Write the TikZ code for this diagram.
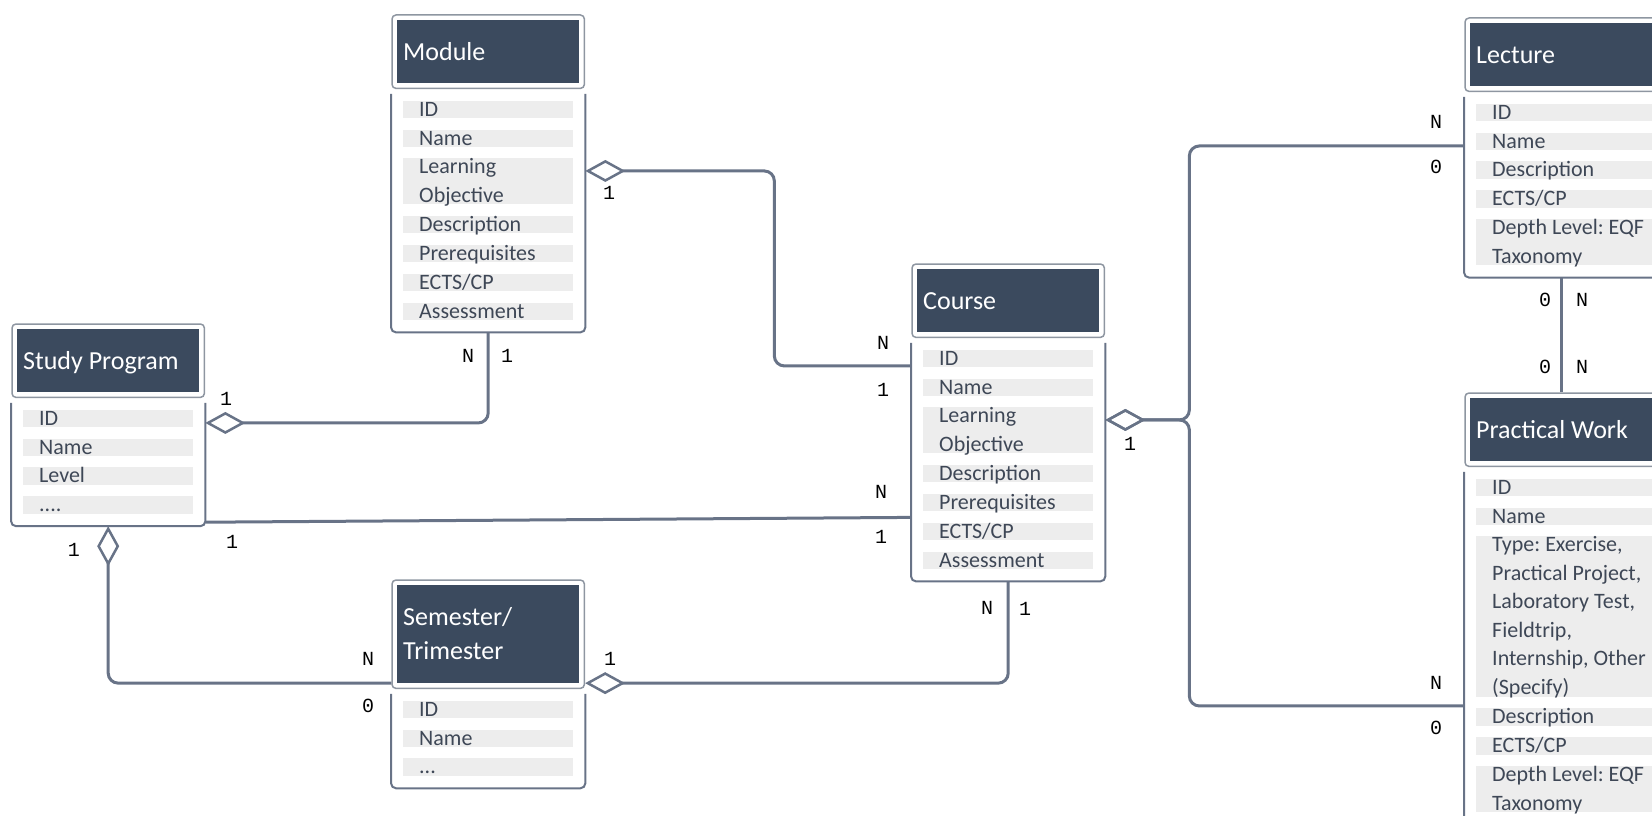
\documentclass[tikz,border=0pt]{standalone}
\usepackage{fontspec}
\usepackage{xcolor}
\usepackage{tikz}
\usetikzlibrary{positioning,calc,fit,arrows.meta}

\newfontfamily\carlito{Carlito}
\newfontfamily\lblmono{Liberation Mono}

\definecolor{hdrc}{HTML}{3B4A5E}
\definecolor{barc}{HTML}{EDEDED}
\definecolor{txtc}{HTML}{3E4756}
\definecolor{linec}{HTML}{687387}
\definecolor{framec}{HTML}{8E96A1}

\tikzset{
    hdr/.style={fill=hdrc, text=white, anchor=north west, font=\carlito\fontsize{26}{32}\selectfont,
        text width=170pt, inner xsep=6pt, inner ysep=0pt, minimum height=63pt,
        text height=17pt, text depth=0pt, align=left,
        execute at begin node={\spaceskip=0pt\xspaceskip=0pt\frenchspacing\relax}},
    hdr2/.style={hdr, minimum height=98pt, text depth=34pt, execute at begin node={\baselineskip=34pt\relax}},
    hframe/.style={draw=framec, line width=1.5pt, rounded corners=4pt, inner sep=5pt},
    attr/.style={fill=barc, text=txtc, font=\carlito\fontsize{22}{28.5}\selectfont,
        text width=170pt, inner sep=0pt, text height=15.5pt, text depth=2pt, align=left,
        execute at begin node={\leftskip=16pt\relax\baselineskip=28.5pt\relax
            \spaceskip=0pt\xspaceskip=0pt\frenchspacing\relax}},
    attr2/.style={attr, text depth=30.5pt},
    attr6/.style={attr, text depth=145pt},
    abox/.style={inner sep=0pt},
    aframe/.style={draw=linec, line width=2pt, rounded corners=5pt},
    conn/.style={draw=linec, line width=3pt, rounded corners=10pt},
    dia/.tip={Diamond[open, length=40pt, width=22pt, line width=2.5pt]},
    lbl/.style={font=\lblmono\fontsize{20}{20}\selectfont, inner sep=0pt}
}

\begin{document}
\begin{tikzpicture}[x=1pt, y=-1pt]
    \useasboundingbox (0,0) rectangle (1652,816);
    \clip (0,0) rectangle (1652,816);

    % Module
    \node[hdr] (mod-h) at (397,20) {Module};
    \node[hframe, fit=(mod-h)] (mod-hf) {};
    \coordinate (mod-0) at ($(mod-h.south west)+(6,6)$);
    \foreach \t/\s [count=\i] in {ID/attr, Name/attr, {Learning\\Objective}/attr2, Description/attr,
        Prerequisites/attr, {ECTS/CP}/attr, Assessment/attr} {
        \pgfmathtruncatemacro\j{\i-1}
        \node[\s, below=11pt of mod-\j.south west, anchor=north west] (mod-\i) {\t};
    }
    \node[abox, fit={($(mod-hf.south west)+(0,5)$) ($(mod-7.south -| mod-hf.east)+(0,12)$)}] (mod-b) {};
    \draw[aframe] (mod-b.north west) -- (mod-b.south west) -- (mod-b.south east) -- (mod-b.north east);

    % Study Program
    \node[hdr] (sp-h) at (17,329) {Study Program};
    \node[hframe, fit=(sp-h)] (sp-hf) {};
    \coordinate (sp-0) at ($(sp-h.south west)+(6,6)$);
    \foreach \t/\s [count=\i] in {ID/attr, Name/attr, Level/attr, .{}.{}.{}./attr} {
        \pgfmathtruncatemacro\j{\i-1}
        \node[\s, below=11pt of sp-\j.south west, anchor=north west] (sp-\i) {\t};
    }
    \node[abox, fit={($(sp-hf.south west)+(0,5)$) ($(sp-4.south -| sp-hf.east)+(0,12)$)}] (sp-b) {};
    \draw[aframe] (sp-b.north west) -- (sp-b.south west) -- (sp-b.south east) -- (sp-b.north east);

    % Course
    \node[hdr] (crs-h) at (917,269) {Course};
    \node[hframe, fit=(crs-h)] (crs-hf) {};
    \coordinate (crs-0) at ($(crs-h.south west)+(6,6)$);
    \foreach \t/\s [count=\i] in {ID/attr, Name/attr, {Learning\\Objective}/attr2, Description/attr,
        Prerequisites/attr, {ECTS/CP}/attr, Assessment/attr} {
        \pgfmathtruncatemacro\j{\i-1}
        \node[\s, below=11pt of crs-\j.south west, anchor=north west] (crs-\i) {\t};
    }
    \node[abox, fit={($(crs-hf.south west)+(0,5)$) ($(crs-7.south -| crs-hf.east)+(0,12)$)}] (crs-b) {};
    \draw[aframe] (crs-b.north west) -- (crs-b.south west) -- (crs-b.south east) -- (crs-b.north east);

    % Semester/Trimester
    \node[hdr2] (sem-h) at (397,585) {Semester/\\Trimester};
    \node[hframe, fit=(sem-h)] (sem-hf) {};
    \coordinate (sem-0) at ($(sem-h.south west)+(6,6)$);
    \foreach \t/\s [count=\i] in {ID/attr, Name/attr, .{}.{}./attr} {
        \pgfmathtruncatemacro\j{\i-1}
        \node[\s, below=11pt of sem-\j.south west, anchor=north west] (sem-\i) {\t};
    }
    \node[abox, fit={($(sem-hf.south west)+(0,5)$) ($(sem-3.south -| sem-hf.east)+(0,12)$)}] (sem-b) {};
    \draw[aframe] (sem-b.north west) -- (sem-b.south west) -- (sem-b.south east) -- (sem-b.north east);

    % Lecture
    \node[hdr] (lec-h) at (1470,23) {Lecture};
    \node[hframe, fit=(lec-h)] (lec-hf) {};
    \coordinate (lec-0) at ($(lec-h.south west)+(6,6)$);
    \foreach \t/\s [count=\i] in {ID/attr, Name/attr, Description/attr, {ECTS/CP}/attr,
        {Depth Level: EQF\\Taxonomy}/attr2} {
        \pgfmathtruncatemacro\j{\i-1}
        \node[\s, text width=190pt, below=11pt of lec-\j.south west, anchor=north west] (lec-\i) {\t};
    }
    \node[abox, fit={($(lec-hf.south west)+(0,5)$) ($(lec-5.south -| lec-hf.east)+(0,12)$)}] (lec-b) {};
    \draw[aframe] (lec-b.north west) -- (lec-b.south west) -- (lec-b.south east) -- (lec-b.north east);

    % Practical Work
    \node[hdr] (pw-h) at (1470,398) {Practical Work};
    \node[hframe, fit=(pw-h)] (pw-hf) {};
    \coordinate (pw-0) at ($(pw-h.south west)+(6,6)$);
    \foreach \t/\s [count=\i] in {ID/attr, Name/attr,
        {Type: Exercise,\\Practical Project,\\Laboratory Test,\\Fieldtrip,\\Internship, Other\\(Specify)}/attr6,
        Description/attr, {ECTS/CP}/attr, {Depth Level: EQF\\Taxonomy}/attr2} {
        \pgfmathtruncatemacro\j{\i-1}
        \node[\s, text width=190pt, below=11pt of pw-\j.south west, anchor=north west] (pw-\i) {\t};
    }
    \node[abox, fit={($(pw-hf.south west)+(0,5)$) ($(pw-6.south -| pw-hf.east)+(0,12)$)}] (pw-b) {};
    \draw[aframe] (pw-b.north west) -- (pw-b.south west) -- (pw-b.south east) -- (pw-b.north east);

    % Connectors
    \draw[conn, dia-] ([yshift=-77pt]mod-b.north east) -- ++(189,0) |- ([yshift=-23pt]crs-b.north west);
    \draw[conn, -dia] (mod-b.south) |- ([yshift=-20pt]sp-b.north east);
    \draw[conn] ([yshift=4pt]sp-b.south east) -- ([yshift=64pt]crs-b.south west);
    \draw[conn, dia-] (sp-b.south) |- ([yshift=6pt]sem-hf.south west);
    \draw[conn, dia-] ([yshift=6pt]sem-hf.south east) -| (crs-b.south);
    \draw[conn, dia-] ([yshift=-77pt]crs-b.north east) -- ++(84,0) |- ([yshift=-49pt]lec-b.north west);
    \draw[conn, dia-] ([yshift=-77pt]crs-b.north east) -- ++(84,0) |- ([yshift=-234pt]pw-b.north west);
    \draw[conn] (lec-b.south) -- (pw-hf.north);

    % Cardinalities
    \foreach \t/\x/\y [count=\i] in {1/609/193, N/883/343, 1/883/390, N/468/356, 1/507/356, 1/226/399,
        1/232/542, N/881/492, 1/881/537, 1/74/550, N/368/659, 0/368/706, 1/610/659, N/987/608, 1/1025/609,
        1/1130/444, N/1436/122, 0/1436/167, N/1436/683, 0/1436/728, 0/1545/300, N/1582/300, 0/1545/367, N/1582/367} {
        \node[lbl] (lb\i) at (\x,\y) {\t};
    }

\end{tikzpicture}
\end{document}
